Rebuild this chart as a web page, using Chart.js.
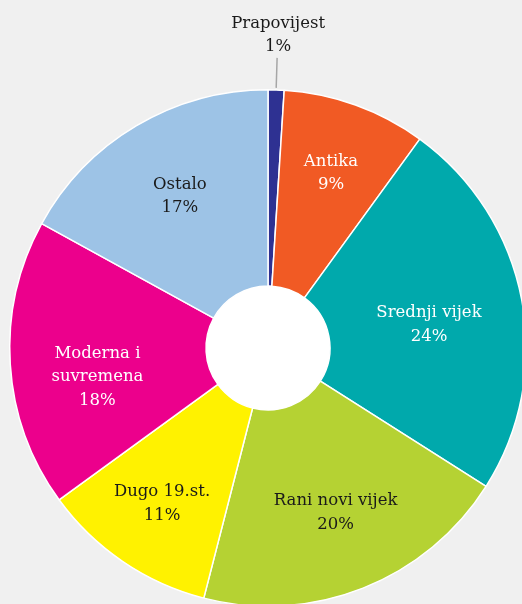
<!DOCTYPE html>
<html>
<head>
<meta charset="utf-8">
<script src="https://cdn.jsdelivr.net/npm/chart.js@4"></script>
<style>
  html, body { margin: 0; padding: 0; background: #f0f0f0; overflow: hidden; }
  #wrap { position: absolute; left: 0; top: 0; width: 536px; height: 620px; }
</style>
</head>
<body>
<div id="wrap"><canvas id="chart" width="536" height="620"></canvas></div>
<script>
// period labels (lines split for wrapping) and shares in percent
const periods = ['Prapovijest', 'Antika', 'Srednji vijek', 'Rani novi vijek', 'Dugo 19.st.', 'Moderna i|suvremena', 'Ostalo'];
const shares = [1, 9, 24, 20, 11, 18, 17];
const sliceColors = ['#2e3192', '#f15a24', '#00a9ac', '#b5d233', '#fff200', '#ec008c', '#9dc3e6'];
const textColors = ['#1a1a1a', '#ffffff', '#ffffff', '#1a1a1a', '#1a1a1a', '#ffffff', '#1a1a1a'];

const FONT = '16.5px "DejaVu Serif", serif';
const LINE_H = 23.5;

// label placement tweaks: fraction of outer radius, angle shift (degrees)
const labelRadius = [0, 0.72, 0.63, 0.69, 0.73, 0.67, 0.68];
const labelShift = [0, 0, 2.5, -0.7, 0, -6, 0.5];

const sliceLabels = {
    id: 'sliceLabels',
    afterDatasetsDraw(chart) {
        const ctx = chart.ctx;
        const arcs = chart.getDatasetMeta(0).data;
        ctx.save();
        ctx.font = FONT;
        ctx.textAlign = 'center';
        ctx.textBaseline = 'middle';
        arcs.forEach((arc, i) => {
            const p = arc.getProps(['x', 'y', 'startAngle', 'endAngle', 'outerRadius', 'innerRadius'], true);
            const mid = (p.startAngle + p.endAngle) / 2;
            const lines = periods[i].split('|').concat([shares[i] + '%']);
            ctx.fillStyle = textColors[i];
            if (shares[i] < 3) {
                // small slice: label outside with a leader line
                const r1 = p.outerRadius + 2, r2 = p.outerRadius + 32;
                ctx.strokeStyle = '#a6a6a6';
                ctx.lineWidth = 1.5;
                ctx.beginPath();
                ctx.moveTo(p.x + Math.cos(mid) * r1, p.y + Math.sin(mid) * r1);
                ctx.lineTo(p.x + Math.cos(mid) * r2, p.y + Math.sin(mid) * r2);
                ctx.stroke();
                const tx = p.x + Math.cos(mid) * r2 + 1;
                const ty = p.y + Math.sin(mid) * r2 - 11;
                lines.forEach((l, k) => {
                    ctx.fillText(l, tx, ty - (lines.length - 1 - k) * LINE_H);
                });
                return;
            }
            const a = mid + labelShift[i] * Math.PI / 180;
            const r = p.outerRadius * labelRadius[i];
            const cx = p.x + Math.cos(a) * r;
            const cy = p.y + Math.sin(a) * r;
            lines.forEach((l, k) => {
                ctx.fillText(l, cx, cy + (k - (lines.length - 1) / 2) * LINE_H);
            });
        });
        ctx.restore();
    }
};

const holeFill = {
    id: 'holeFill',
    beforeDatasetsDraw(chart) {
        const arc = chart.getDatasetMeta(0).data[0];
        const p = arc.getProps(['x', 'y', 'innerRadius'], true);
        const ctx = chart.ctx;
        ctx.save();
        ctx.fillStyle = '#ffffff';
        ctx.beginPath();
        ctx.arc(p.x, p.y, p.innerRadius + 1, 0, Math.PI * 2);
        ctx.fill();
        ctx.restore();
    }
};

new Chart(document.getElementById('chart'), {
    type: 'doughnut',
    data: {
        labels: periods.map(s => s.replace('|', ' ')),
        datasets: [{
            data: shares,
            backgroundColor: sliceColors,
            borderColor: '#ffffff',
            borderWidth: 1.5,
            hoverOffset: 0,
            offset: 0
        }]
    },
    options: {
        responsive: false,
        animation: false,
        cutout: '24%',
        layout: { padding: { left: 9, top: 89, right: 9, bottom: 13 } },
        plugins: {
            legend: { display: false },
            tooltip: { enabled: false }
        }
    },
    plugins: [holeFill, sliceLabels]
});
</script>
</body>
</html>
